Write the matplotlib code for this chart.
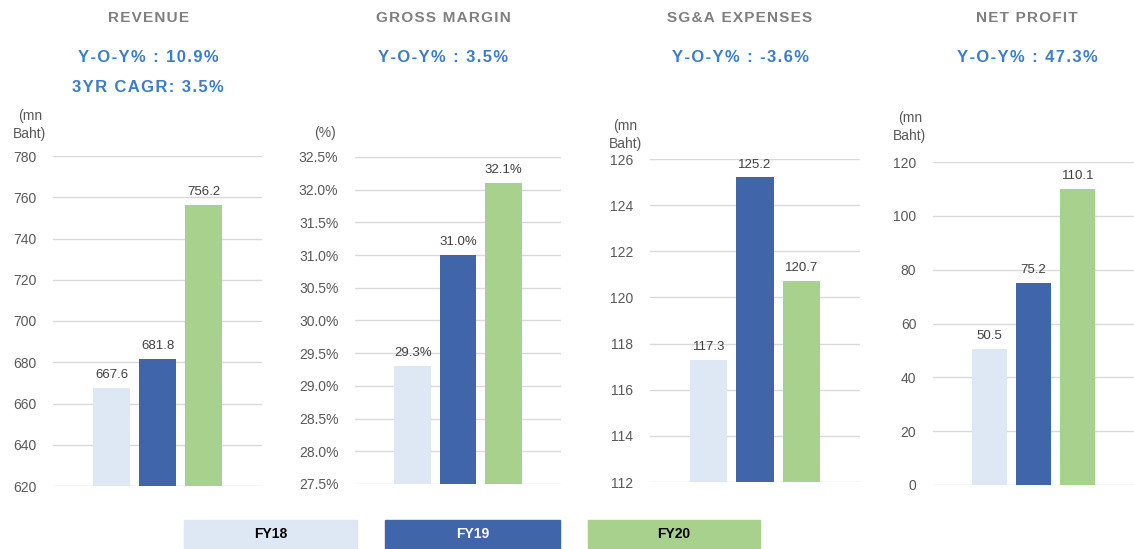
import numpy as np
import matplotlib.pyplot as plt
from matplotlib.patches import Rectangle

plt.rcParams['font.family'] = ['Liberation Sans', 'DejaVu Sans']

years = ["FY18", "FY19", "FY20"]
colors = ["#dde8f4", "#4065a8", "#a9d18e"]

titles = ["REVENUE", "GROSS MARGIN", "SG&A EXPENSES", "NET PROFIT"]
subtitles = [["Y-O-Y% : 10.9%", "3YR CAGR: 3.5%"], ["Y-O-Y% : 3.5%"],
             ["Y-O-Y% : -3.6%"], ["Y-O-Y% : 47.3%"]]
units = ["(mn\nBaht)", "(%)", "(mn\nBaht)", "(mn\nBaht)"]

revenue = [667.6, 681.8, 756.2]
gross_margin = [29.3, 31.0, 32.1]
sga = [117.3, 125.2, 120.7]
net_profit = [50.5, 75.2, 110.1]
series = [revenue, gross_margin, sga, net_profit]

ylims = [(620, 780), (27.5, 32.5), (112, 126), (0, 120)]
ysteps = [20, 0.5, 2, 20]
fmts = ["{:.0f}", "{:.1f}%", "{:.0f}", "{:.0f}"]
lbl_fmts = ["{:.1f}", "{:.1f}%", "{:.1f}", "{:.1f}"]


def spaced(s, gap):
    # letter spacing by putting a narrow space between characters
    return gap.join(s)


W, H = 1134, 549
# pixel boxes: left, right, top, bottom
boxes = [(53, 262, 156, 486), (355, 561, 157, 484),
         (650, 860, 159, 482), (933, 1134, 162, 485)]
unit_pos = [(30, 125), (325, 133), (625, 135), (910, 127)]
title_x = [148, 443, 740, 1027]

fig = plt.figure(figsize=(W / 100, H / 100), dpi=100)

for i in range(4):
    l, r, t, b = boxes[i]
    ax = fig.add_axes([l / W, 1 - b / H, (r - l) / W, (b - t) / H])
    x = np.arange(3)
    lo, hi = ylims[i]
    ax.bar(x, np.array(series[i]) - lo, bottom=lo, width=0.8, color=colors, zorder=3)
    ax.set_xlim(-1.27, 3.27)
    ax.set_ylim(lo, hi)
    ticks = np.arange(lo, hi + ysteps[i] / 2, ysteps[i])
    ax.set_yticks(ticks)
    ax.set_yticklabels([fmts[i].format(v) for v in ticks])
    ax.yaxis.grid(True, color="#d9d9d9", linewidth=1, zorder=0)
    ax.set_xticks([])
    for s in ax.spines.values():
        s.set_visible(False)
    ax.tick_params(axis="y", length=0, labelsize=10, labelcolor="#595959", pad=12)
    for xi, v in zip(x, series[i]):
        ax.annotate(lbl_fmts[i].format(v), (xi, v), xytext=(0, 5),
                    textcoords="offset points", ha="center", va="bottom",
                    fontsize=9.5, color="#404040")

    fig.text(title_x[i] / W, 1 - 18 / H, spaced(titles[i], "\u200a"), ha="center",
             va="center", fontsize=11, fontweight="bold", color="#7f7f7f")
    for j, s in enumerate(subtitles[i]):
        fig.text(title_x[i] / W, 1 - (58 + 30 * j) / H, spaced(s, "\u200a"),
                 ha="center", va="center", fontsize=12, fontweight="bold",
                 color="#3d7cc9")
    ux, uy = unit_pos[i]
    fig.text(ux / W, 1 - uy / H, units[i], ha="center", va="center",
             fontsize=10, color="#595959", linespacing=1.4)

# legend boxes
leg_x = [(184, 357), (385, 560), (588, 760)]
for (x0, x1), name, c in zip(leg_x, years, colors):
    fig.patches.append(Rectangle((x0 / W, 1 - 548 / H), (x1 - x0) / W, 28 / H,
                                 transform=fig.transFigure, color=c, zorder=1))
    fig.text((x0 + x1) / 2 / W, 1 - 534 / H, name, ha="center", va="center",
             fontsize=10, fontweight="bold",
             color="white" if name == "FY19" else "black")

fig.savefig("out.png", dpi=100)
